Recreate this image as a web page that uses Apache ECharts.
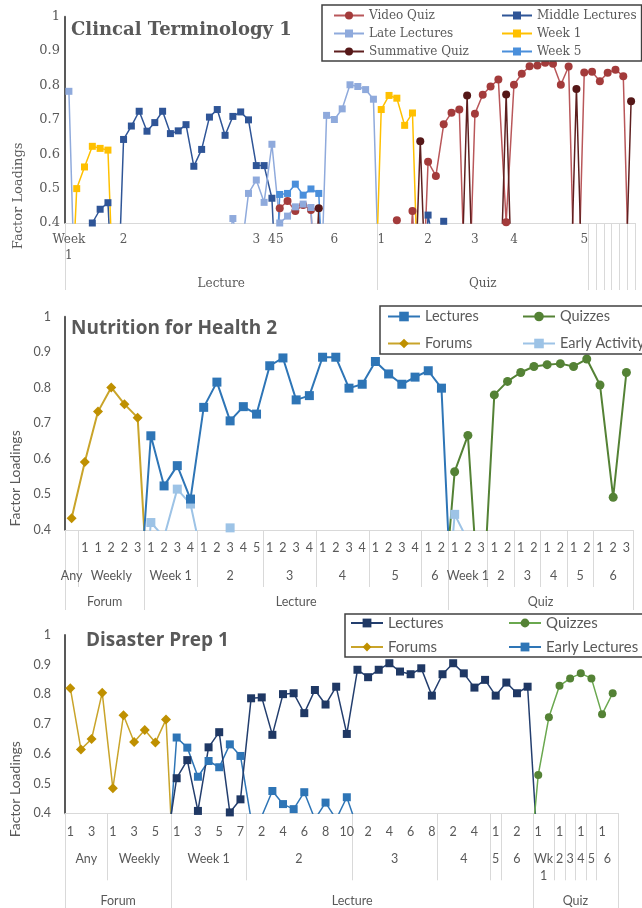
<!DOCTYPE html>
<html>
<head>
<meta charset="utf-8">
<title>Factor loadings</title>
<script src="https://cdn.jsdelivr.net/npm/echarts@6/dist/echarts.min.js"></script>
<style>
  html, body { margin: 0; padding: 0; background: #fff; }
  #main { width: 642px; height: 908px; }
</style>
</head>
<body>
<div id="main"></div>
<script>
// ---------- Clincal Terminology 1 (73 columns) ----------
// 0 = value below the 0.4 cut-off of the axis
var ctVideoQuiz = [
  0, 0, 0, 0, 0, 0, 0, 0, 0, 0,
  0, 0, 0, 0, 0, 0, 0, 0, 0, 0,
  0, 0, 0, 0, 0, 0, 0, 0.443, 0.464, 0.435,
  0.452, 0.438, 0, 0, 0, 0, 0, 0, 0, 0,
  0, 0, 0.408, 0, 0.435, 0, 0.578, 0.537, 0.687, 0.721,
  0.730, 0, 0.718, 0.773, 0.797, 0.817, 0.402, 0.802, 0.834, 0.856,
  0.858, 0.866, 0.863, 0.802, 0.855, 0, 0.838, 0.840, 0.812, 0.837,
  0.846, 0.827, 0
];
var ctMiddle = [
  0, 0, 0, 0.400, 0.440, 0.459, 0, 0.643, 0.682, 0.725,
  0.667, 0.692, 0.725, 0.660, 0.668, 0.686, 0.565, 0.614, 0.708, 0.730,
  0.655, 0.710, 0.723, 0.700, 0.567, 0.567, 0.472, 0, 0, 0,
  0, 0, 0, 0, 0, 0, 0, 0, 0, 0,
  0, 0, 0, 0, 0, 0, 0.423, 0.30, 0.405, 0,
  0, 0, 0, 0, 0, 0, 0, 0, 0, 0,
  0, 0, 0, 0, 0, 0, 0, 0, 0, 0,
  0, 0, 0
];
var ctLate = [
  0.783, 0, 0, 0, 0, 0, 0, 0, 0, 0,
  0, 0, 0, 0, 0, 0, 0, 0, 0, 0,
  0.30, 0.413, 0.30, 0.486, 0.525, 0.460, 0.629, 0.400, 0.420, 0.447,
  0.455, 0.445, 0, 0.713, 0.701, 0.732, 0.802, 0.797, 0.788, 0.760,
  0, 0, 0, 0, 0, 0, 0, 0, 0, 0,
  0, 0, 0, 0, 0, 0, 0, 0, 0, 0,
  0, 0, 0, 0, 0, 0, 0, 0, 0, 0,
  0, 0, 0
];
var ctWeek1 = [
  0, 0.500, 0.563, 0.623, 0.617, 0.612, 0, 0, 0, 0,
  0, 0, 0, 0, 0, 0, 0, 0, 0, 0,
  0, 0, 0, 0, 0, 0, 0, 0, 0, 0,
  0, 0, 0, 0, 0, 0, 0, 0, 0, 0,
  0.730, 0.771, 0.763, 0.684, 0.720, 0, 0, 0, 0, 0,
  0, 0, 0, 0, 0, 0, 0, 0, 0, 0,
  0, 0, 0, 0, 0, 0, 0, 0, 0, 0,
  0, 0, 0
];
var ctSummative = [
  0, 0, 0, 0, 0, 0, 0, 0, 0, 0,
  0, 0, 0, 0, 0, 0, 0, 0, 0, 0,
  0, 0, 0, 0, 0, 0, 0, 0, 0, 0,
  0, 0, 0.443, 0, 0, 0, 0, 0, 0, 0,
  0, 0, 0, 0, 0, 0.638, 0, 0, 0, 0,
  0, 0.771, 0, 0, 0, 0, 0.774, 0, 0, 0,
  0, 0, 0, 0, 0, 0.790, 0, 0, 0, 0,
  0, 0, 0.754
];
var ctWeek5 = [
  0, 0, 0, 0, 0, 0, 0, 0, 0, 0,
  0, 0, 0, 0, 0, 0, 0, 0, 0, 0,
  0, 0, 0, 0, 0, 0, 0, 0.483, 0.486, 0.513,
  0.481, 0.499, 0.486, 0, 0, 0, 0, 0, 0, 0,
  0, 0, 0, 0, 0, 0, 0, 0, 0, 0,
  0, 0, 0, 0, 0, 0, 0, 0, 0, 0,
  0, 0, 0, 0, 0, 0, 0, 0, 0, 0,
  0, 0, 0
];
var ctCount = 73;
var ctLabelPos = [0, 7, 24, 26, 27, 34, 40, 46, 52, 57, 66];
var ctLabelText = ['Week\n1', '2', '3', '4', '5', '6', '1', '2', '3', '4', '5'];
var ctGroups = [['Lecture', 40], ['Quiz', 27], ['', 1], ['', 1], ['', 1], ['', 1], ['', 1], ['', 1]];

// ---------- Nutrition for Health 2 (43 columns) ----------
var nhLectures = [
  0, 0, 0, 0, 0, 0.13, 0.665, 0.524, 0.581, 0.487,
  0.745, 0.816, 0.707, 0.747, 0.726, 0.862, 0.884, 0.766, 0.778, 0.886,
  0.886, 0.799, 0.810, 0.874, 0.839, 0.810, 0.830, 0.848, 0.799, 0,
  0, 0, 0, 0, 0, 0, 0, 0, 0, 0,
  0, 0, 0
];
var nhQuizzes = [
  0, 0, 0, 0, 0, 0, 0, 0, 0, 0,
  0, 0, 0, 0, 0, 0, 0, 0, 0, 0,
  0, 0, 0, 0, 0, 0, 0, 0, 0.12, 0.564,
  0.666, 0.10, 0.780, 0.818, 0.843, 0.860, 0.865, 0.868, 0.860, 0.881,
  0.808, 0.492, 0.843
];
var nhForums = [
  0.433, 0.591, 0.733, 0.801, 0.754, 0.716, 0.08, 0, 0, 0,
  0, 0, 0, 0, 0, 0, 0, 0, 0, 0,
  0, 0, 0, 0, 0, 0, 0, 0, 0, 0,
  0, 0, 0, 0, 0, 0, 0, 0, 0, 0,
  0, 0, 0
];
var nhEarly = [
  0, 0, 0, 0, 0, 0, 0.421, 0.38, 0.515, 0.473,
  0.30, 0, 0.406, 0, 0, 0, 0, 0, 0, 0,
  0, 0, 0, 0, 0, 0, 0, 0, 0, 0.444,
  0.37, 0, 0, 0, 0, 0, 0, 0, 0, 0,
  0, 0, 0
];
var nhLevel1 = ['', '1', '1', '2', '2', '3', '1', '2', '3', '4', '1', '2', '3', '4', '5',
  '1', '2', '3', '4', '1', '2', '3', '4', '1', '2', '3', '4', '1', '2',
  '1', '2', '3', '1', '2', '1', '2', '1', '2', '1', '2', '1', '2', '3'];
var nhLevel2 = [['Any', 1], ['Weekly', 5], ['Week 1', 4], ['2', 5], ['3', 4], ['4', 4], ['5', 4], ['6', 2],
  ['Week 1', 3], ['2', 2], ['3', 2], ['4', 2], ['5', 2], ['6', 3]];
var nhLevel3 = [['Forum', 6], ['Lecture', 23], ['Quiz', 14]];

// ---------- Disaster Prep 1 (52 columns) ----------
var dpForums = [
  0.821, 0.615, 0.650, 0.806, 0.484, 0.730, 0.640, 0.680, 0.638, 0.716,
  0, 0, 0, 0, 0, 0, 0, 0, 0, 0,
  0, 0, 0, 0, 0, 0, 0, 0, 0, 0,
  0, 0, 0, 0, 0, 0, 0, 0, 0, 0,
  0, 0, 0, 0, 0, 0, 0, 0, 0, 0,
  0, 0
];
var dpLectures = [
  0, 0, 0, 0, 0, 0, 0, 0, 0, 0.28,
  0.518, 0.579, 0.408, 0.622, 0.673, 0.403, 0.447, 0.787, 0.790, 0.664,
  0.801, 0.804, 0.737, 0.815, 0.766, 0.826, 0.667, 0.883, 0.858, 0.883,
  0.905, 0.877, 0.868, 0.888, 0.796, 0.868, 0.905, 0.871, 0.823, 0.849,
  0.796, 0.840, 0.804, 0.826, 0.24, 0, 0, 0, 0, 0,
  0, 0
];
var dpEarly = [
  0, 0, 0, 0, 0, 0, 0, 0, 0, 0.15,
  0.655, 0.621, 0.523, 0.576, 0.555, 0.632, 0.593, 0.38, 0.39, 0.475,
  0.431, 0.414, 0.471, 0.38, 0.436, 0.38, 0.454, 0.35, 0, 0,
  0, 0, 0, 0, 0, 0, 0, 0, 0, 0,
  0, 0, 0, 0, 0, 0, 0, 0, 0, 0,
  0, 0
];
var dpQuizzes = [
  0, 0, 0, 0, 0, 0, 0, 0, 0, 0,
  0, 0, 0, 0, 0, 0, 0, 0, 0, 0,
  0, 0, 0, 0, 0, 0, 0, 0, 0, 0,
  0, 0, 0, 0, 0, 0, 0, 0, 0, 0,
  0, 0, 0, 0.14, 0.529, 0.723, 0.829, 0.854, 0.871, 0.854,
  0.733, 0.804
];
var dpLevel1 = ['1', '', '3', '', '1', '', '3', '', '5', '',
  '1', '', '3', '', '5', '', '7',
  '', '2', '', '4', '', '6', '', '8', '', '10',
  '', '2', '', '4', '', '6', '', '8',
  '', '2', '', '4', '', '1', '', '2', '',
  '1', '', '1', '', '1', '', '1', ''];
var dpLevel2 = [['Any', 4], ['Weekly', 6], ['Week 1', 7], ['2', 10], ['3', 8], ['4', 5], ['5', 1], ['6', 3],
  ['Wk\n1', 2], ['2', 1], ['3', 1], ['4', 1], ['5', 1], ['6', 2]];
var dpLevel3 = [['Forum', 10], ['Lecture', 34], ['Quiz', 8]];

var SERIF = 'DejaVu Serif';
var SANS = 'Lato';
var GREY = '#595959';
var SEP = '#d9d9d9';
var DIAMOND = 'path://M0,-1L1,0L0,1L-1,0Z';

// group labels sit on a half-step axis (2n+1 slots), separators at group edges
function groupAxis(gridIndex, groups, total, margin, tickLen, font, size) {
  var data = [], ticks = {}, start = 0;
  for (var k = 0; k <= 2 * total; k++) data.push('');
  groups.forEach(function (g) {
    ticks[2 * start] = true;
    data[2 * start + g[1]] = g[0];
    start += g[1];
  });
  ticks[2 * total] = true;
  return {
    type: 'category', gridIndex: gridIndex, position: 'bottom', boundaryGap: false, data: data,
    axisLine: {show: false, onZero: false},
    axisTick: {show: true, length: tickLen, interval: function (i) { return !!ticks[i]; },
      lineStyle: {color: SEP, width: 1}},
    axisLabel: {interval: 0, margin: margin, color: GREY, fontFamily: font, fontSize: size, lineHeight: 17},
    splitLine: {show: false}
  };
}

function mainAxis(gridIndex, labels, margin, font, size) {
  return {
    type: 'category', gridIndex: gridIndex, position: 'bottom', boundaryGap: true, data: labels,
    axisLine: {show: true, onZero: false, lineStyle: {color: SEP, width: 1}},
    axisTick: {show: false},
    axisLabel: {interval: 0, margin: margin, color: GREY, fontFamily: font, fontSize: size, lineHeight: 16},
    splitLine: {show: false}
  };
}

function yAxis(gridIndex, font, size, margin, nameSize, shift) {
  return {
    type: 'value', gridIndex: gridIndex, min: 0.4, max: 1, interval: 0.1,
    name: 'Factor Loadings', nameLocation: 'middle', nameGap: 40,
    nameTextStyle: {fontFamily: font, fontSize: nameSize, color: GREY, padding: [0, shift * 2, 0, 0]},
    axisLine: {show: true, lineStyle: {color: GREY, width: 2}},
    axisTick: {show: false},
    splitLine: {show: false},
    axisLabel: {fontFamily: font, fontSize: size, color: GREY, margin: margin,
      formatter: function (v) { return String(+v.toFixed(1)); }}
  };
}

function line(name, xi, yi, data, color, lineColor, symbol, size, width) {
  return {
    name: name, type: 'line', xAxisIndex: xi, yAxisIndex: yi, data: data,
    symbol: symbol, symbolSize: size, showAllSymbol: true, clip: true,
    itemStyle: {color: color, borderWidth: 0},
    lineStyle: {color: lineColor, width: width},
    emphasis: {disabled: true}
  };
}

function legend(names, col1, left, top, width, pad, gap, itemW, itemH, font, size, lh, colW) {
  return {
    left: left, top: top, width: width, orient: 'horizontal', selectedMode: false,
    padding: pad, itemGap: gap, itemWidth: itemW, itemHeight: itemH,
    borderColor: '#404040', borderWidth: 1.5, backgroundColor: '#fff',
    data: names,
    formatter: function (name) {
      var t = name.split('|')[0];
      return col1.indexOf(name) >= 0 ? '{a|' + t + '}' : '{b|' + t + '}';
    },
    textStyle: {fontFamily: font, fontSize: size, color: GREY, lineHeight: lh,
      rich: {
        a: {width: colW, fontFamily: font, fontSize: size, color: GREY, lineHeight: lh},
        b: {fontFamily: font, fontSize: size, color: GREY, lineHeight: lh}
      }}
  };
}

var ctLevel1 = [];
for (var i = 0; i < ctCount; i++) ctLevel1.push('');
ctLabelPos.forEach(function (p, j) { ctLevel1[p] = ctLabelText[j]; });

var chart = echarts.init(document.getElementById('main'), null, {renderer: 'canvas'});
chart.setOption({
  animation: false,
  backgroundColor: '#fff',
  title: [
    {text: 'Clincal Terminology 1', left: 71, top: 21, padding: 0,
      textStyle: {fontFamily: SERIF, fontWeight: 'bold', fontSize: 18, color: GREY}},
    {text: 'Nutrition for Health 2', left: 71, top: 319, padding: 0,
      textStyle: {fontFamily: 'Open Sans', fontWeight: 'bold', fontSize: 19, color: GREY}},
    {text: 'Disaster Prep 1', left: 86, top: 631, padding: 0,
      textStyle: {fontFamily: 'Open Sans', fontWeight: 'bold', fontSize: 19, color: GREY}}
  ],
  grid: [
    {left: 65, top: 16.7, width: 570, height: 206.3, outerBoundsMode: 'none'},
    {left: 65, top: 316.7, width: 568, height: 213.3, outerBoundsMode: 'none'},
    {left: 65, top: 635, width: 553, height: 178.3, outerBoundsMode: 'none'}
  ],
  xAxis: [
    mainAxis(0, ctLevel1, 9, SERIF, 12),
    groupAxis(0, ctGroups, ctCount, 52, 67, SERIF, 12),
    mainAxis(1, nhLevel1, 10, SANS, 12.5),
    groupAxis(1, nhLevel2, nhLevel1.length, 37, 57, SANS, 12.5),
    groupAxis(1, nhLevel3, nhLevel1.length, 63, 80, SANS, 12.5),
    mainAxis(2, dpLevel1, 11, SANS, 12.5),
    groupAxis(2, dpLevel2, dpLevel1.length, 37, 67, SANS, 12.5),
    groupAxis(2, dpLevel3, dpLevel1.length, 79, 95, SANS, 12.5)
  ],
  yAxis: [
    yAxis(0, SERIF, 13, 5, 13, 76),
    yAxis(1, SANS, 12.5, 14, 14, 55),
    yAxis(2, SANS, 12.5, 14, 14, 65)
  ],
  legend: [
    legend(['Video Quiz', 'Middle Lectures', 'Late Lectures', 'Week 1', 'Summative Quiz', 'Week 5'],
      ['Video Quiz', 'Late Lectures', 'Summative Quiz'],
      322, 5, 310, [4, 5, 3, 11], 5, 30, 10, SERIF, 12, 13, 127),
    legend(['Lectures|2', 'Quizzes|2', 'Forums|2', 'Early Activity'],
      ['Lectures|2', 'Forums|2'],
      380, 306, 262, [2, 1, 2, 7], 10, 32, 12, SANS, 14.5, 17, 87),
    legend(['Lectures|3', 'Quizzes|3', 'Forums|3', 'Early Lectures'],
      ['Lectures|3', 'Forums|3'],
      345, 614, 290, [1, 5, 2, 5], 8, 32, 11, SANS, 15, 16, 112)
  ],
  series: [
    line('Video Quiz', 0, 0, ctVideoQuiz, '#a33b3b', '#b9575a', 'circle', 8, 1.5),
    line('Middle Lectures', 0, 0, ctMiddle, '#2f5597', '#2f5597', 'rect', 7, 1.5),
    line('Late Lectures', 0, 0, ctLate, '#8faadc', '#8faadc', 'rect', 7, 1.5),
    line('Week 1', 0, 0, ctWeek1, '#ffc000', '#ffc000', 'rect', 7, 1.5),
    line('Summative Quiz', 0, 0, ctSummative, '#561818', '#5e1f1f', 'circle', 8, 1.5),
    line('Week 5', 0, 0, ctWeek5, '#4a8fdb', '#4a8fdb', 'rect', 7, 1.5),

    line('Forums|2', 2, 1, nhForums, '#bf9000', '#c9a42a', DIAMOND, 10, 2),
    line('Early Activity', 2, 1, nhEarly, '#9dc3e6', '#9dc3e6', 'rect', 9, 2),
    line('Lectures|2', 2, 1, nhLectures, '#2e75b6', '#2e75b6', 'rect', 9, 2),
    line('Quizzes|2', 2, 1, nhQuizzes, '#548235', '#548235', 'circle', 9, 2),

    line('Forums|3', 5, 2, dpForums, '#bf9000', '#c9a42a', DIAMOND, 10, 1.5),
    line('Early Lectures', 5, 2, dpEarly, '#2e75b6', '#2e75b6', 'rect', 8, 1.5),
    line('Lectures|3', 5, 2, dpLectures, '#1f3864', '#233e6e', 'rect', 8, 1.5),
    line('Quizzes|3', 5, 2, dpQuizzes, '#548235', '#6aa84f', 'circle', 8, 1.5)
  ]
});
</script>
</body>
</html>
